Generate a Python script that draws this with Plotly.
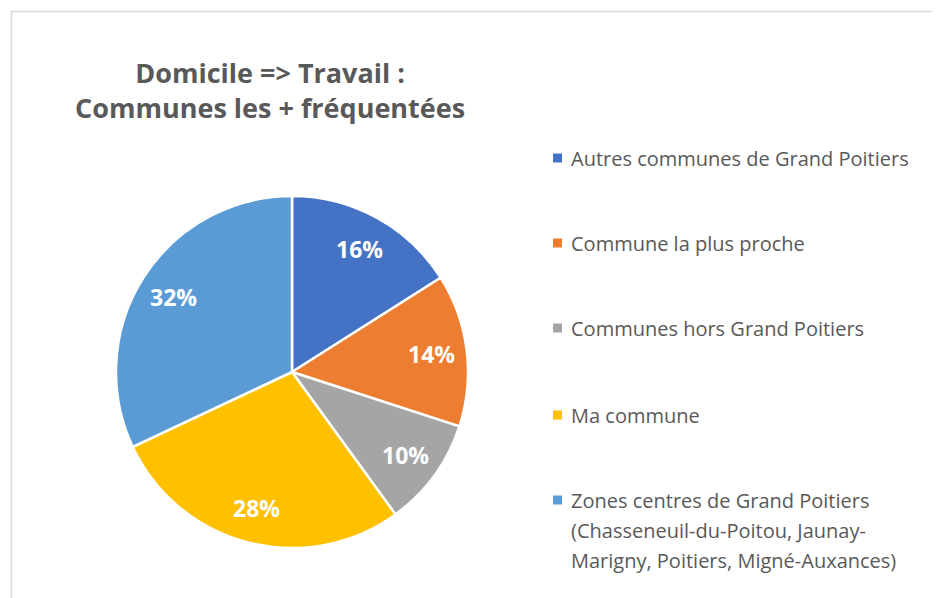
import math
import plotly.graph_objects as go

W, H = 940, 598
OFF = 8  # default body margin of the html page

labels = [
    "Autres communes de Grand Poitiers",
    "Commune la plus proche",
    "Communes hors Grand Poitiers",
    "Ma commune",
    "Zones centres de Grand Poitiers<br>(Chasseneuil-du-Poitou, Jaunay-<br>Marigny, Poitiers, Migné-Auxances)",
]
values = [16, 14, 10, 28, 32]
colors = ["#4472C4", "#ED7D31", "#A5A5A5", "#FFC000", "#5B9BD5"]
title_text = "Domicile => Travail :<br>Communes les + fréquentées"

def px(x):
    return (x - OFF) / W

def py(y):
    return 1 - (y - OFF) / H

# pie geometry (pixels)
CX, CY, R = 292, 372, 176

fig = go.Figure()
fig.add_trace(go.Pie(
    labels=labels,
    values=values,
    sort=False,
    direction="clockwise",
    rotation=0,
    marker=dict(colors=colors, line=dict(color="white", width=2.5)),
    textinfo="none",
    domain=dict(x=[px(CX - R), px(CX + R)], y=[py(CY + R), py(CY - R)]),
    showlegend=False,
    hoverinfo="label+percent",
))

# percentage labels placed at 0.8 r along each slice's mid-angle (as Excel does)
total = sum(values)
cum = 0
for v in values:
    mid = (cum + v / 2) / total * 2 * math.pi
    cum += v
    lx = CX + 0.8 * R * math.sin(mid)
    ly = CY - 0.8 * R * math.cos(mid)
    fig.add_annotation(
        text="<b>%d%%</b>" % round(100 * v / total), x=px(lx), y=py(ly), xref="paper", yref="paper",
        xanchor="center", yanchor="middle", showarrow=False,
        font=dict(family="Open Sans", size=23, color="white"),
    )

# title
fig.add_annotation(
    text="<b>" + title_text + "</b>", x=px(270), y=py(90), xref="paper", yref="paper",
    xanchor="center", yanchor="middle", showarrow=False, align="center",
    font=dict(family="Open Sans", size=27, color="#595959"),
)

# legend built from labels/colors
legend_y = [158, 243, 328, 415, 500]
LINE = 30
shapes = [dict(type="rect", xref="paper", yref="paper", x0=px(11.5), x1=px(980), y0=py(11.5), y1=py(640),
               line=dict(color="#D9D9D9", width=1.5), fillcolor="rgba(0,0,0,0)", layer="below")]
for lab, col, ly in zip(labels, colors, legend_y):
    shapes.append(dict(type="rect", xref="paper", yref="paper", x0=px(553), x1=px(562),
                       y0=py(ly - 4.5), y1=py(ly + 4.5), fillcolor=col, line=dict(width=0)))
    for i, line in enumerate(lab.split("<br>")):
        fig.add_annotation(
            text=line, x=px(569), y=py(ly + i * LINE), xref="paper", yref="paper",
            xanchor="left", yanchor="middle", showarrow=False, align="left",
            font=dict(family="Open Sans", size=20, color="#595959"),
        )

fig.update_layout(
    width=W, height=H,
    margin=dict(l=0, r=0, t=0, b=0),
    paper_bgcolor="white",
    shapes=shapes,
)

fig.write_html("out.html")
